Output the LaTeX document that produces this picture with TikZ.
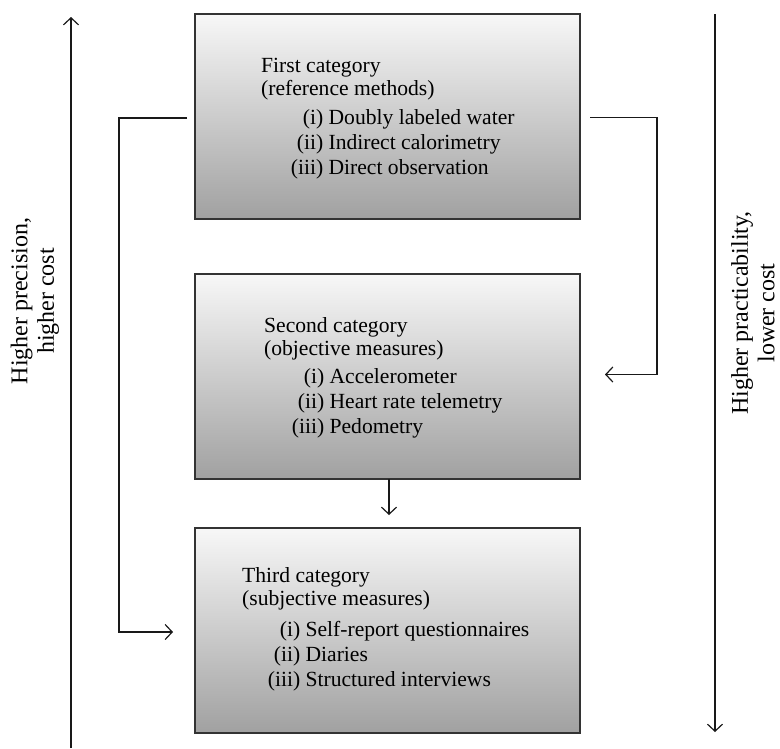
\documentclass[tikz,border=0pt]{standalone}
\usepackage{fontspec}
\setmainfont{Liberation Serif}
\usetikzlibrary{arrows.meta,calc}
\begin{document}
\begin{tikzpicture}[x=1pt,y=-1pt,
  catbox/.style={draw=black!80, line width=1.3pt, top color=white!97!black, bottom color=black!37,
    minimum width=385pt, minimum height=205pt, anchor=north west, inner sep=0pt, outer sep=0pt},
  catText/.style={anchor=base west, inner sep=0pt, font=\fontsize{21.6}{23.5}\selectfont},
  sideText/.style={rotate=90, align=center, inner sep=0pt, font=\fontsize{24}{26.5}\selectfont},
  arr/.style={line width=1.2pt, black!90, -{Straight Barb[length=7pt,width=15pt,line width=1.2pt]}},
  conn/.style={line width=1.2pt, black!90}
]
\useasboundingbox (0,0) rectangle (780,748);

\node[catbox] (b1) at (195,14) {};
\node[catbox] (b2) at (195,274) {};
\node[catbox] (b3) at (195,528) {};

\node[catText] (t1) at (261,72) {\begin{tabular}[t]{@{}l@{}}
First category\\
(reference methods)\\[5pt]
\makebox[62pt][r]{(i)} Doubly labeled water\\[1.5pt]
\makebox[62pt][r]{(ii)} Indirect calorimetry\\[1.5pt]
\makebox[62pt][r]{(iii)} Direct observation
\end{tabular}};

\node[catText] (t2) at (264,332) {\begin{tabular}[t]{@{}l@{}}
Second category\\
(objective measures)\\[4pt]
\makebox[60pt][r]{(i)} Accelerometer\\[1.5pt]
\makebox[60pt][r]{(ii)} Heart rate telemetry\\[1.5pt]
\makebox[60pt][r]{(iii)} Pedometry
\end{tabular}};

\node[catText] (t3) at (242,582) {\begin{tabular}[t]{@{}l@{}}
Third category\\
(subjective measures)\\[7pt]
\makebox[58pt][r]{(i)} Self-report questionnaires\\[1.5pt]
\makebox[58pt][r]{(ii)} Diaries\\[1.5pt]
\makebox[58pt][r]{(iii)} Structured interviews
\end{tabular}};

% side axes
\coordinate (lbot) at (71,748);
\coordinate (ltop) at (71,17);
\coordinate (rtop) at (715,14);
\coordinate (rbot) at (715,732);
\draw[arr] (lbot) -- (ltop);
\draw[arr] (rtop) -- (rbot);

\node[sideText] (ls) at (35,301) {Higher precision,\\ higher cost};
\node[sideText] (rs) at (753,313) {Higher practicability,\\ lower cost};

% connectors
\draw[arr] ([xshift=-8pt,yshift=-1.5pt]b1.west) -- ++(-68,0) |- ([xshift=-22pt,yshift=-1.5pt]b3.west);
\draw[arr] ([xshift=10pt,yshift=-1pt]b1.east) -- ++(67,0) |- ([xshift=25pt,yshift=2pt]b2.east);
\draw[arr] ([xshift=1.5pt]b2.south) -- ([xshift=1.5pt,yshift=13pt]b3.north);
\end{tikzpicture}
\end{document}
